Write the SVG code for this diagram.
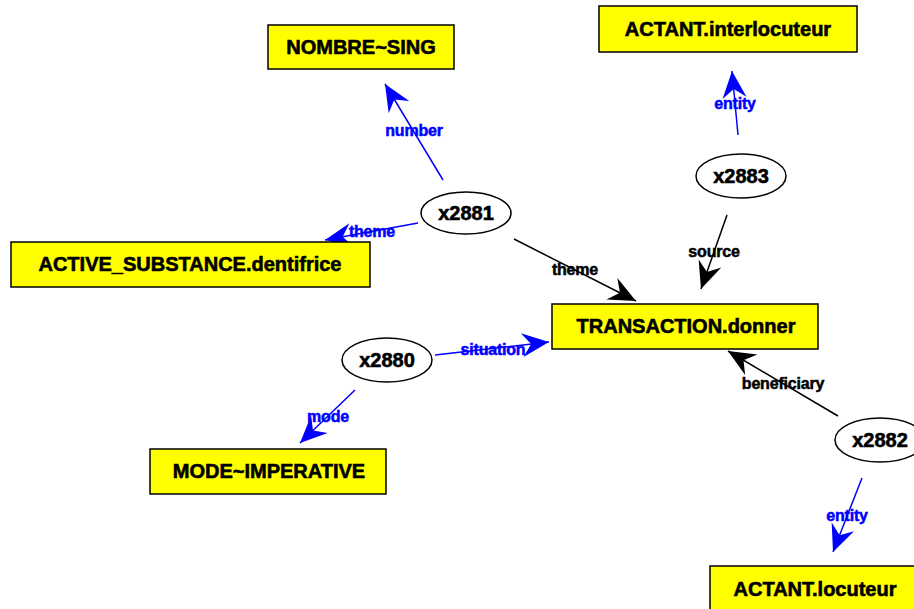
<svg xmlns="http://www.w3.org/2000/svg" width="914" height="609" viewBox="0 0 914 609">
<style>
.box rect{fill:#ffff00;stroke:#000;stroke-width:1.5}
.ell ellipse{fill:#fff;stroke:#000;stroke-width:1.5}
.nt{font-family:"Liberation Sans",Arial,sans-serif;font-weight:bold;font-size:20px;text-anchor:middle;fill:#000;stroke:#000;stroke-width:0.6}
.el{font-family:"Liberation Sans",Arial,sans-serif;font-weight:bold;font-size:16px;text-anchor:middle;letter-spacing:-0.2px;stroke-width:0.5}
.blue{stroke:#0000ff;stroke-width:1.5;fill:none}
.black{stroke:#000;stroke-width:1.5;fill:none}
.bl{fill:#0000ff;stroke:#0000ff}
.bk{fill:#000;stroke:#000}
</style>
<defs>
<marker id="ab" markerUnits="userSpaceOnUse" markerWidth="32" markerHeight="26" viewBox="-29 -13 32 26" refX="0" refY="0" orient="auto">
<path d="M0,0 L-27,-12 L-18,0 L-27,12 Z" fill="#0000ff"/>
</marker>
<marker id="ak" markerUnits="userSpaceOnUse" markerWidth="32" markerHeight="26" viewBox="-29 -13 32 26" refX="0" refY="0" orient="auto">
<path d="M0,0 L-27,-12 L-18,0 L-27,12 Z" fill="#000"/>
</marker>
</defs>
<rect width="914" height="609" fill="#fff"/>
<g id="connectors">
<line class="blue" x1="443" y1="180" x2="385" y2="84" marker-end="url(#ab)"/>
<line class="blue" x1="418" y1="223" x2="325" y2="240" marker-end="url(#ab)"/>
<line class="black" x1="514" y1="239" x2="636" y2="301" marker-end="url(#ak)"/>
<line class="blue" x1="435" y1="355" x2="549" y2="342" marker-end="url(#ab)"/>
<line class="blue" x1="355" y1="390" x2="300" y2="443" marker-end="url(#ab)"/>
<line class="blue" x1="738" y1="135" x2="732" y2="71" marker-end="url(#ab)"/>
<line class="black" x1="727" y1="215" x2="701" y2="289" marker-end="url(#ak)"/>
<line class="black" x1="838" y1="416" x2="728" y2="351" marker-end="url(#ak)"/>
<line class="blue" x1="862" y1="478" x2="833" y2="552" marker-end="url(#ab)"/>
<text class="el bl" x="414" y="136">number</text>
<text class="el bl" x="372" y="237">theme</text>
<text class="el bk" x="575" y="275">theme</text>
<text class="el bl" x="493" y="355">situation</text>
<text class="el bl" x="328" y="422">mode</text>
<text class="el bl" x="735" y="109">entity</text>
<text class="el bk" x="714" y="257">source</text>
<text class="el bk" x="783" y="389">beneficiary</text>
<text class="el bl" x="847" y="521">entity</text>
</g>
<g id="n_nombre" class="box"><rect x="268" y="25" width="186" height="44"/><text class="nt" x="361" y="54">NOMBRE~SING</text></g>
<g id="n_interlocuteur" class="box"><rect x="599" y="6" width="258" height="46"/><text class="nt" x="728" y="36">ACTANT.interlocuteur</text></g>
<g id="n_active" class="box"><rect x="11" y="242" width="359" height="45"/><text class="nt" x="190" y="271">ACTIVE_SUBSTANCE.dentifrice</text></g>
<g id="n_transaction" class="box"><rect x="552" y="304" width="266" height="45"/><text class="nt" x="686" y="333">TRANSACTION.donner</text></g>
<g id="n_mode" class="box"><rect x="150" y="449" width="236" height="45"/><text class="nt" x="269" y="478">MODE~IMPERATIVE</text></g>
<g id="n_locuteur" class="box"><rect x="710" y="566" width="214" height="50"/><text class="nt" x="815" y="596">ACTANT.locuteur</text></g>
<g id="n_x2881" class="ell"><ellipse cx="466" cy="213" rx="45" ry="21"/><text class="nt" x="466" y="220">x2881</text></g>
<g id="n_x2880" class="ell"><ellipse cx="387" cy="360" rx="45" ry="22"/><text class="nt" x="387" y="367">x2880</text></g>
<g id="n_x2883" class="ell"><ellipse cx="741" cy="176" rx="45" ry="22"/><text class="nt" x="741" y="183">x2883</text></g>
<g id="n_x2882" class="ell"><ellipse cx="880" cy="440" rx="45" ry="22"/><text class="nt" x="880" y="447">x2882</text></g>
</svg>
